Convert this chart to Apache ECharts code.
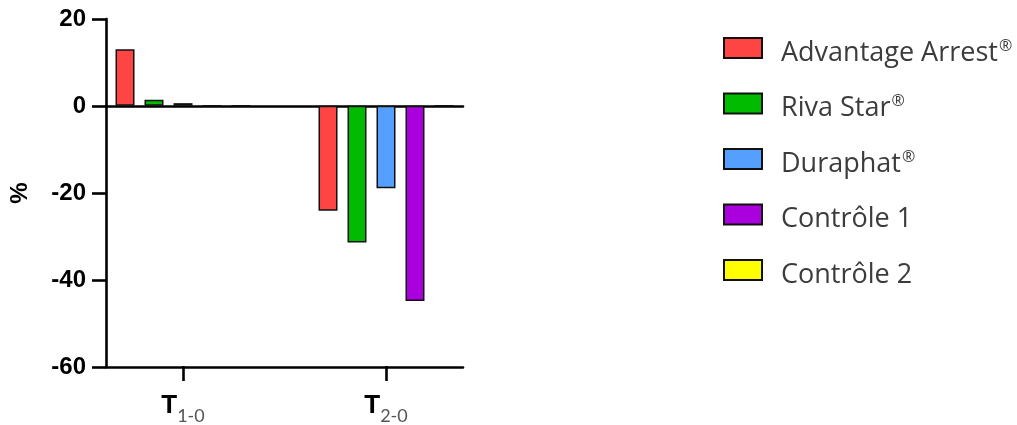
<!DOCTYPE html>
<html><head><meta charset="utf-8">
<script src="https://cdn.jsdelivr.net/npm/echarts@6/dist/echarts.min.js"></script>
<style>html,body{margin:0;padding:0;background:#fff}#c{width:1017px;height:425px}</style>
</head><body><div id="c"></div>
<script>
const categories = ['T1-0', 'T2-0'];
const seriesNames = ['Advantage Arrest®', 'Riva Star®', 'Duraphat®', 'Contrôle 1', 'Contrôle 2'];
const advantageArrest = [13, -24.2];
const rivaStar = [1.4, -31.5];
const duraphat = [0.6, -19];
const controle1 = [0, -45];
const controle2 = [0, 0];
const yTicks = [-60, -40, -20, 0, 20];
const colors = ['#FF4444', '#00BB00', '#55A0FF', '#AA00DD', '#FFFF00'];

const values = [advantageArrest, rivaStar, duraphat, controle1, controle2];
const chart = echarts.init(document.getElementById('c'), null, {renderer: 'canvas'});
const axisColor = '#000';
const lw = 2.6;
chart.setOption({
  animation: false,
  grid: [
    {left: 106, top: 19, width: 357, height: 348},
    {left: 81.5, top: 19, width: 406, height: 348}
  ],
  legend: {
    orient: 'vertical', left: 723, top: 28, padding: 0,
    itemWidth: 38, itemHeight: 20, itemGap: 15.5, icon: 'rect',
    data: seriesNames,
    formatter: n => n.replace('®', '{sup|®}'),
    textStyle: {
      fontFamily: 'Open Sans', fontSize: 27, lineHeight: 30, color: '#3c3c3c', padding: [10, 0, 0, 14],
      rich: {sup: {fontFamily: 'Open Sans', fontSize: 16, color: '#3c3c3c', verticalAlign: 'top', lineHeight: 30, padding: [0, 0, 0, 1]}}
    }
  },
  xAxis: [
    {gridIndex: 0, type: 'value', min: 0, max: 1, position: 'bottom',
     axisLine: {show: true, onZero: false, lineStyle: {color: axisColor, width: lw}},
     axisTick: {show: false}, axisLabel: {show: false}, splitLine: {show: false}},
    {gridIndex: 0, type: 'value', min: 0, max: 1, position: 'bottom',
     axisLine: {show: true, onZero: true, lineStyle: {color: axisColor, width: lw}},
     axisTick: {show: false}, axisLabel: {show: false}, splitLine: {show: false}},
    {gridIndex: 1, type: 'category', data: categories, position: 'bottom',
     axisLine: {show: false, onZero: false},
     axisTick: {show: true, alignWithLabel: true, length: 15, lineStyle: {color: axisColor, width: lw}},
     axisLabel: {
       margin: 23,
       formatter: v => '{t|' + v.charAt(0) + '}{s|' + v.slice(1) + '}',
       rich: {
         t: {fontFamily: 'Liberation Sans', fontWeight: 'bold', fontSize: 26, color: '#000', lineHeight: 30, verticalAlign: 'bottom'},
         s: {fontFamily: 'Lato', fontSize: 18, color: '#555', lineHeight: 30, verticalAlign: 'bottom', padding: [0, 0, -6, 0]}
       }
     },
     splitLine: {show: false}}
  ],
  yAxis: [
    {gridIndex: 0, type: 'value', min: yTicks[0], max: yTicks[yTicks.length - 1], interval: 20,
     name: '%', nameLocation: 'middle', nameGap: 74, nameRotate: 90, nameMoveOverlap: false,
     nameTextStyle: {fontFamily: 'Liberation Sans', fontWeight: 'bold', fontSize: 24, color: '#000'},
     axisLine: {show: true, onZero: false, lineStyle: {color: axisColor, width: lw}},
     axisTick: {show: true, length: 14, lineStyle: {color: axisColor, width: lw}},
     axisLabel: {margin: 20, fontFamily: 'Liberation Sans', fontWeight: 'bold', fontSize: 24, color: '#000'},
     splitLine: {show: false}},
    {gridIndex: 1, type: 'value', min: yTicks[0], max: yTicks[yTicks.length - 1], interval: 20, show: false,
     splitLine: {show: false}}
  ],
  series: seriesNames.map((name, i) => ({
    name: name, type: 'bar', xAxisIndex: 2, yAxisIndex: 1,
    data: values[i], barWidth: 19, barGap: '52.6%',
    itemStyle: {color: colors[i], borderColor: '#111', borderWidth: 1.5}
  }))
});
</script></body></html>
